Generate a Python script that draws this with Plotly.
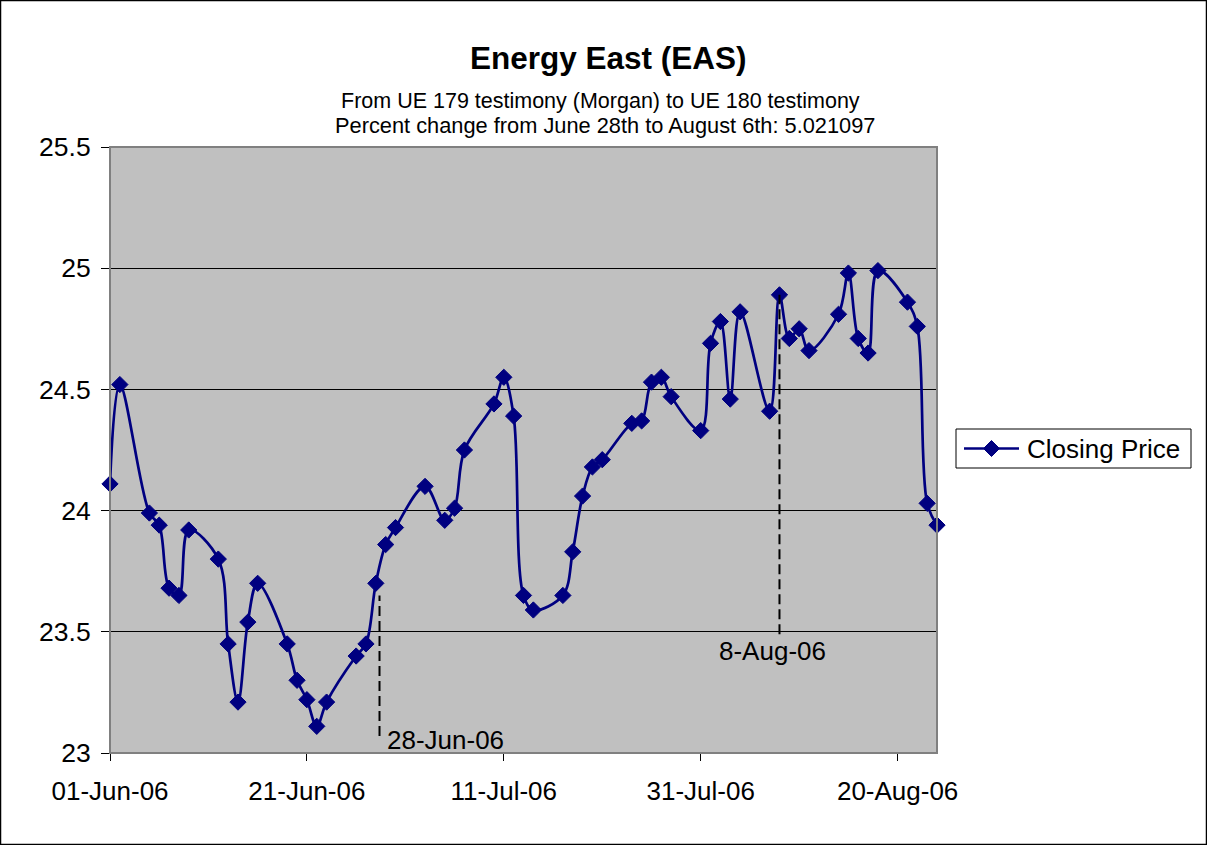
import plotly.graph_objects as go

# Daily closing prices, Energy East (EAS), June - August 2006
dates = [
    "2006-06-01", "2006-06-02", "2006-06-05", "2006-06-06", "2006-06-07", "2006-06-08",
    "2006-06-09", "2006-06-12", "2006-06-13", "2006-06-14", "2006-06-15", "2006-06-16",
    "2006-06-19", "2006-06-20", "2006-06-21", "2006-06-22", "2006-06-23", "2006-06-26",
    "2006-06-27", "2006-06-28", "2006-06-29", "2006-06-30",
    "2006-07-03", "2006-07-05", "2006-07-06", "2006-07-07", "2006-07-10", "2006-07-11",
    "2006-07-12", "2006-07-13", "2006-07-14", "2006-07-17", "2006-07-18", "2006-07-19",
    "2006-07-20", "2006-07-21", "2006-07-24", "2006-07-25", "2006-07-26", "2006-07-27",
    "2006-07-28", "2006-07-31",
    "2006-08-01", "2006-08-02", "2006-08-03", "2006-08-04", "2006-08-07", "2006-08-08",
    "2006-08-09", "2006-08-10", "2006-08-11", "2006-08-14", "2006-08-15", "2006-08-16",
    "2006-08-17", "2006-08-18", "2006-08-21", "2006-08-22", "2006-08-23", "2006-08-24",
]
closing = [
    24.11, 24.52, 23.99, 23.94, 23.68, 23.65,
    23.92, 23.80, 23.45, 23.21, 23.54, 23.70,
    23.45, 23.30, 23.22, 23.11, 23.21, 23.40,
    23.45, 23.70, 23.86, 23.93,
    24.10, 23.96, 24.01, 24.25, 24.44, 24.55,
    24.39, 23.65, 23.59, 23.65, 23.83, 24.06,
    24.18, 24.21, 24.36, 24.37, 24.53, 24.55,
    24.47, 24.33,
    24.69, 24.78, 24.46, 24.82, 24.41, 24.89,
    24.71, 24.75, 24.66, 24.81, 24.98, 24.71,
    24.65, 24.99, 24.86, 24.76, 24.03, 23.94,
]

x_tick_vals = ["2006-06-01", "2006-06-21", "2006-07-11", "2006-07-31", "2006-08-20"]
x_tick_text = ["01-Jun-06", "21-Jun-06", "11-Jul-06", "31-Jul-06", "20-Aug-06"]

# Testimony dates marked on the chart
marker_dates = ["2006-06-28 09:00", "2006-08-08"]
marker_labels = ["28-Jun-06", "8-Aug-06"]
marker_line_top = [23.65, 24.89]
marker_line_bottom = [23.07, 23.49]

SERIES_NAME = "Closing Price"
NAVY = "#000080"
FONT = "Arial, Liberation Sans, sans-serif"

W, H = 1207, 845
L, R, T, B = 110, 270, 147, 92
PW, PH = W - L - R, H - T - B


def px_x(px):
    return (px - L) / PW


def px_y(py):
    return (H - B - py) / PH


fig = go.Figure()

fig.add_trace(go.Scatter(
    x=dates, y=closing, mode="lines+markers", name=SERIES_NAME,
    line=dict(color=NAVY, width=2.7, shape="spline", smoothing=1.0),
    marker=dict(symbol="diamond", size=12.5, color=NAVY, line=dict(color=NAVY, width=1)),
    cliponaxis=False, showlegend=False,
))

shapes = []
# plot-area frame
shapes.append(dict(type="rect", xref="paper", yref="paper", x0=0, x1=1, y0=0, y1=1,
                   line=dict(color="#808080", width=2), layer="above"))
# outer chart border
shapes.append(dict(type="rect", xref="paper", yref="paper",
                   x0=px_x(0.5), x1=px_x(W - 0.5), y0=px_y(H - 0.5), y1=px_y(0.5),
                   line=dict(color="black", width=1.5)))

# dashed drop lines at the testimony dates
for d, top, bot in zip(marker_dates, marker_line_top, marker_line_bottom):
    shapes.append(dict(type="line", xref="x", yref="y", x0=d, x1=d, y0=bot, y1=top,
                       line=dict(color="black", width=2, dash="10px,5px")))

# legend box with a long line sample and a diamond
lg_x0, lg_x1, lg_y0, lg_y1 = 956, 1191, 429, 468
lg_mid = (lg_y0 + lg_y1) / 2
shapes.append(dict(type="rect", xref="paper", yref="paper",
                   x0=px_x(lg_x0), x1=px_x(lg_x1), y0=px_y(lg_y1), y1=px_y(lg_y0),
                   line=dict(color="black", width=1), fillcolor="white"))
shapes.append(dict(type="line", xref="paper", yref="paper",
                   x0=px_x(964), x1=px_x(1019), y0=px_y(lg_mid), y1=px_y(lg_mid),
                   line=dict(color=NAVY, width=2.7)))
cx, r = 991.5, 8
diamond = "M {},{} L {},{} L {},{} L {},{} Z".format(
    px_x(cx - r), px_y(lg_mid), px_x(cx), px_y(lg_mid - r),
    px_x(cx + r), px_y(lg_mid), px_x(cx), px_y(lg_mid + r))
shapes.append(dict(type="path", xref="paper", yref="paper", path=diamond,
                   fillcolor=NAVY, line=dict(color=NAVY, width=1)))

annotations = []
annotations.append(dict(text=SERIES_NAME, xref="paper", yref="paper",
                        x=px_x(1025), y=px_y(lg_mid), xanchor="left", yanchor="middle",
                        showarrow=False, font=dict(family=FONT, size=26, color="black")))

annotations.append(dict(text=marker_labels[0], xref="paper", yref="paper",
                        x=px_x(385), y=px_y(740), xanchor="left", yanchor="middle",
                        showarrow=False, font=dict(family=FONT, size=26, color="black")))
annotations.append(dict(text=marker_labels[1], xref="paper", yref="paper",
                        x=px_x(717), y=px_y(651), xanchor="left", yanchor="middle",
                        showarrow=False, font=dict(family=FONT, size=26, color="black")))

# titles
annotations.append(dict(text="<b>Energy East (EAS)</b>", xref="paper", yref="paper",
                        x=px_x(608.5), y=px_y(58), xanchor="center", yanchor="middle",
                        showarrow=False, font=dict(family=FONT, size=31.5, color="black")))
annotations.append(dict(text="From UE 179 testimony (Morgan) to UE 180 testimony",
                        xref="paper", yref="paper", x=px_x(600.5), y=px_y(101),
                        xanchor="center", yanchor="middle", showarrow=False,
                        font=dict(family=FONT, size=21.5, color="black")))
annotations.append(dict(text="Percent change from June 28th to August 6th: 5.021097",
                        xref="paper", yref="paper", x=px_x(605), y=px_y(126),
                        xanchor="center", yanchor="middle", showarrow=False,
                        font=dict(family=FONT, size=21.8, color="black")))

fig.update_layout(
    width=W, height=H, autosize=False,
    margin=dict(l=L, r=R, t=T, b=B, pad=0),
    paper_bgcolor="white", plot_bgcolor="#C0C0C0",
    font=dict(family=FONT, size=26, color="black"),
    shapes=shapes, annotations=annotations,
    showlegend=False,
)

fig.update_xaxes(
    type="date", range=["2006-06-01", "2006-08-24"],
    tickvals=x_tick_vals, ticktext=x_tick_text,
    showgrid=False, zeroline=False,
    showline=True, linecolor="black", linewidth=1,
    ticks="outside", ticklen=7, tickcolor="black", tickwidth=1,
    ticklabelstandoff=8,
    tickfont=dict(family=FONT, size=26, color="black"),
)
fig.update_yaxes(
    range=[23, 25.5], dtick=0.5, tick0=23,
    showgrid=True, gridcolor="black", gridwidth=1, zeroline=False,
    showline=True, linecolor="black", linewidth=1,
    ticks="outside", ticklen=8, tickcolor="black", tickwidth=1,
    ticklabelstandoff=5,
    tickfont=dict(family=FONT, size=26.5, color="black"),
)

fig.write_html("out.html")
